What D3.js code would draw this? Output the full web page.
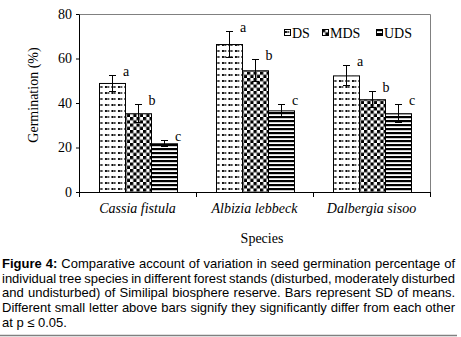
<!DOCTYPE html>
<html>
<head>
<meta charset="utf-8">
<script src="https://cdn.jsdelivr.net/npm/d3@7"></script>
<style>
  body { margin: 0; background: #fff; }
  svg { display: block; }
</style>
</head>
<body>
<div id="chart"></div>
<script>
var species = ["Cassia fistula", "Albizia lebbeck", "Dalbergia sisoo"];
var series = ["DS", "MDS", "UDS"];
var dsMean = [49, 66.5, 52.4];
var mdsMean = [35.4, 54.7, 41.7];
var udsMean = [21.9, 36.7, 35.4];
var dsSD = [3.5, 6, 4.5];
var mdsSD = [4, 5, 3.6];
var udsSD = [1.4, 2.7, 4];
var sigLetters = ["a", "b", "c"];
var yTicks = [0, 20, 40, 60, 80];

var caption = [
  "Comparative account of variation in seed germination percentage of",
  "individual tree species in different forest stands (disturbed, moderately disturbed",
  "and undisturbed) of Similipal biosphere reserve. Bars represent SD of means.",
  "Different small letter above bars signify they significantly differ from each other",
  "at p \u2264 0.05."
];

function init() {
  var w = 461, h = 337;
  var left = 79, right = 430, top = 14, bottom = 192;
  var serif = "'Liberation Serif', 'Times New Roman', serif";
  var sans = "'Liberation Sans', Arial, sans-serif";

  var means = [dsMean, mdsMean, udsMean];
  var sds = [dsSD, mdsSD, udsSD];
  var rows = [];
  species.forEach(function(sp, i) {
    series.forEach(function(s, j) {
      rows.push({sp: sp, s: s, v: means[j][i], sd: sds[j][i], letter: sigLetters[j]});
    });
  });

  var svg = d3.select("#chart").append("svg")
    .attr("width", w).attr("height", h);

  var defs = svg.append("defs");
  // DS: short dashes
  var p1 = defs.append("pattern").attr("id", "pDS")
    .attr("patternUnits", "userSpaceOnUse").attr("width", 6.5).attr("height", 6);
  p1.append("rect").attr("width", 6.5).attr("height", 6).attr("fill", "#fff");
  p1.append("rect").attr("x", 1).attr("y", 2).attr("width", 1.8).attr("height", 2).attr("fill", "#000");
  p1.append("rect").attr("x", 3.3).attr("y", 2).attr("width", 1.8).attr("height", 2).attr("fill", "#333");
  // MDS: checkerboard
  var p2 = defs.append("pattern").attr("id", "pMDS")
    .attr("patternUnits", "userSpaceOnUse").attr("width", 6.5).attr("height", 6.5);
  p2.append("rect").attr("width", 6.5).attr("height", 6.5).attr("fill", "#fff");
  p2.append("rect").attr("width", 3.25).attr("height", 3.25).attr("fill", "#000");
  p2.append("rect").attr("x", 3.25).attr("y", 3.25).attr("width", 3.25).attr("height", 3.25).attr("fill", "#000");
  // UDS: horizontal stripes
  var p3 = defs.append("pattern").attr("id", "pUDS")
    .attr("patternUnits", "userSpaceOnUse").attr("width", 4).attr("height", 4);
  p3.append("rect").attr("width", 4).attr("height", 4).attr("fill", "#fff");
  p3.append("rect").attr("y", 0).attr("width", 4).attr("height", 2.2).attr("fill", "#000");

  var fills = {DS: "url(#pDS)", MDS: "url(#pMDS)", UDS: "url(#pUDS)"};

  var x0 = d3.scaleBand().domain(species).range([left, right]);
  var x1 = d3.scaleBand().domain(series).range([20, x0.bandwidth() - 19]);
  var y = d3.scaleLinear().domain([0, 80]).range([bottom, top]);

  // gray frame top/right
  svg.append("path")
    .attr("d", "M" + left + "," + (top + 0.5) + "H" + (right + 0.5) + "V" + bottom)
    .attr("fill", "none").attr("stroke", "#808080").attr("stroke-width", 1);

  // bars
  var bars = svg.append("g");
  bars.selectAll("rect").data(rows).enter().append("rect")
    .attr("x", function(d) { return x0(d.sp) + x1(d.s) + 0.5; })
    .attr("y", function(d) { return y(d.v) + 0.5; })
    .attr("width", x1.bandwidth())
    .attr("height", function(d) { return bottom - y(d.v); })
    .attr("fill", function(d) { return fills[d.s]; })
    .attr("stroke", "#000").attr("stroke-width", 1);

  // error bars
  var err = svg.append("g").attr("stroke", "#000").attr("stroke-width", 1);
  rows.forEach(function(d) {
    var cx = Math.round(x0(d.sp) + x1(d.s) + x1.bandwidth() / 2) + 0.5;
    var yt = Math.round(y(d.v + d.sd)) + 0.5, yb = Math.round(y(d.v - d.sd)) + 0.5;
    err.append("line").attr("x1", cx).attr("x2", cx).attr("y1", yt).attr("y2", yb);
    err.append("line").attr("x1", cx - 3.5).attr("x2", cx + 3.5).attr("y1", yt).attr("y2", yt);
    err.append("line").attr("x1", cx - 3.5).attr("x2", cx + 3.5).attr("y1", yb).attr("y2", yb);
  });

  // significance letters
  svg.append("g").selectAll("text").data(rows).enter().append("text")
    .attr("x", function(d) { return x0(d.sp) + x1(d.s) + x1.bandwidth() / 2 + 14; })
    .attr("y", function(d) { return y(d.v + d.sd) + 1; })
    .attr("text-anchor", "middle")
    .attr("fill", "#000")
    .attr("font-family", serif).attr("font-size", 14)
    .text(function(d) { return d.letter; });

  // y axis
  var yAxis = svg.append("g").attr("transform", "translate(" + left + ",0)")
    .call(d3.axisLeft(y).tickValues(yTicks).tickSize(3).tickSizeOuter(0).tickPadding(4));
  yAxis.selectAll("text").attr("font-family", serif).attr("font-size", 14).attr("fill", "#000");
  yAxis.select(".domain").attr("stroke", "#000");

  // x axis
  var xAxis = svg.append("g").attr("transform", "translate(0," + bottom + ")");
  xAxis.append("line").attr("x1", left).attr("x2", right + 0.5).attr("y1", 0.5).attr("y2", 0.5).attr("stroke", "#000");
  var tickX = species.map(function(s) { return x0(s); }).concat([right]);
  xAxis.selectAll("line.tk").data(tickX).enter().append("line").attr("class", "tk")
    .attr("x1", function(d) { return Math.round(d) + 0.5; })
    .attr("x2", function(d) { return Math.round(d) + 0.5; })
    .attr("y1", 0).attr("y2", 5).attr("stroke", "#000");
  xAxis.selectAll("text").data(species).enter().append("text")
    .attr("x", function(d) { return x0(d) + x0.bandwidth() / 2; })
    .attr("y", 21)
    .attr("text-anchor", "middle")
    .attr("font-family", serif).attr("font-size", 14).attr("font-style", "italic")
    .text(function(d) { return d; });

  // axis titles
  svg.append("text")
    .attr("transform", "translate(38," + ((top + bottom) / 2 - 8) + ") rotate(-90)")
    .attr("text-anchor", "middle")
    .attr("font-family", serif).attr("font-size", 14)
    .text("Germination (%)");
  svg.append("text")
    .attr("x", 262).attr("y", 243)
    .attr("text-anchor", "middle")
    .attr("font-family", serif).attr("font-size", 14)
    .text("Species");

  // legend
  var legX = [284, 322, 376];
  var leg = svg.append("g");
  series.forEach(function(s, i) {
    var g = leg.append("g").attr("transform", "translate(" + legX[i] + ",29)");
    g.append("rect").attr("x", 0.5).attr("y", 0.5).attr("width", 6).attr("height", 6)
      .attr("fill", fills[s]).attr("stroke", "#000");
    g.append("text").attr("x", 8).attr("y", 9)
      .attr("font-family", serif).attr("font-size", 14)
      .text(s);
  });

  // caption, justified
  var capX0 = 2, capX1 = 455, capY = 268, lh = 14.7;
  var cap = svg.append("g").attr("font-family", sans).attr("font-size", 13).attr("fill", "#000");
  caption.forEach(function(line, li) {
    var words = line.split(" ");
    if (li === 0) words = ["Figure", "4:"].concat(words);
    var bold = function(k) { return li === 0 && k < 2; };
    var widths = words.map(function(wd, k) {
      var t = cap.append("text").attr("font-weight", bold(k) ? "bold" : "normal").text(wd);
      var len = t.node().getComputedTextLength();
      t.remove();
      return len;
    });
    var total = d3.sum(widths);
    var space = 3.6;
    if (li < caption.length - 1) space = (capX1 - capX0 - total) / (words.length - 1);
    var xx = capX0;
    words.forEach(function(wd, k) {
      cap.append("text").attr("x", xx).attr("y", capY + li * lh)
        .attr("font-weight", bold(k) ? "bold" : "normal")
        .text(wd);
      xx += widths[k] + space;
    });
  });

  // bottom frame line
  svg.append("line").attr("x1", 0).attr("x2", 457).attr("y1", 335.5).attr("y2", 335.5)
    .attr("stroke", "#808080").attr("stroke-width", 1.5);
}

window.onload = init;
</script>
</body>
</html>
